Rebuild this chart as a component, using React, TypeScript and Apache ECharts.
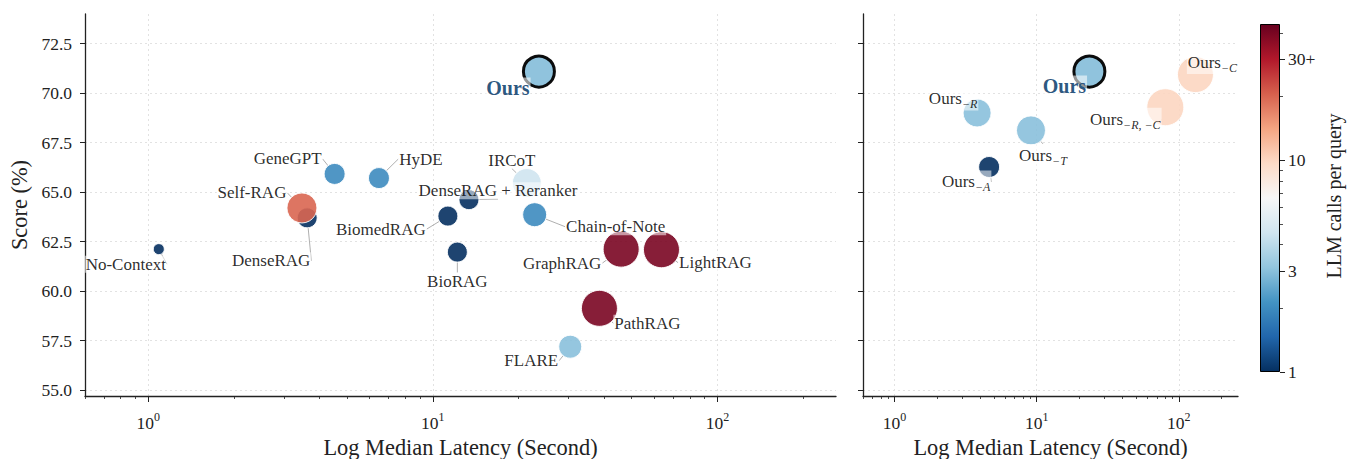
import React, { useEffect, useRef } from 'react';
import * as echarts from 'echarts';

// ---------------- data ----------------
const baselineNames = [
  'No-Context', 'DenseRAG', 'Self-RAG', 'GeneGPT', 'HyDE', 'DenseRAG + Reranker',
  'BiomedRAG', 'BioRAG', 'IRCoT', 'Chain-of-Note', 'GraphRAG', 'LightRAG',
  'PathRAG', 'FLARE', 'Ours',
];
const baselineLatency = [1.09, 3.62, 3.47, 4.52, 6.47, 13.4, 11.3, 12.2, 21.4, 22.8, 45.9, 63.6, 38.5, 30.4, 23.6];
const baselineScore = [62.12, 63.7, 64.2, 65.92, 65.71, 64.62, 63.79, 61.97, 65.46, 63.86, 62.12, 62.09, 59.13, 57.19, 71.09];
const baselineCalls = [1, 1, 20, 2, 2, 1, 1, 1, 4.5, 2, 40, 40, 40, 3, 3];
const baselineBubble = [11, 20, 30, 21, 21, 20, 20, 20, 29, 24, 36, 36, 36, 23, 31];

const ablationBase = ['Ours', 'Ours', 'Ours', 'Ours', 'Ours', 'Ours'];
const ablationSub = ['', '−R', '−T', '−A', '−C', '−R, −C'];
const ablationLatency = [23.5, 3.81, 9.12, 4.63, 131, 80.4];
const ablationScore = [71.09, 69.0, 68.12, 66.27, 70.94, 69.29];
const ablationCalls = [3, 3, 3, 1, 10, 10];
const ablationBubble = [31, 28, 29, 21, 36, 37];

const yTicks = [55, 57.5, 60, 62.5, 65, 67.5, 70, 72.5];
const xMajorTicks = [1, 10, 100];
const xMinorTicks = [0.6, 0.7, 0.8, 0.9, 2, 3, 4, 5, 6, 7, 8, 9, 20, 30, 40, 50, 60, 70, 80, 90, 200];
const cbMajorTicks = [1, 3, 10, 30];
const cbMinorTicks = [2, 4, 5, 6, 7, 8, 9, 20, 40];
const CB_MAX = 44;

// ---------------- layout / style ----------------
const baselineLabelShift: number[][] = [
  [-33, 15], [-36, 43], [-50, -15], [-47, -15], [42, -19], [29, -9],
  [-67, 13], [0, 29], [-15, -23], [81, 12], [-59, 14], [54, 13],
  [48, 15], [-39, 14], [-31, 16],
];
const ablationLabelShift: number[][] = [
  [-25, 14], [-24, -14], [12, 25], [-23, 15], [17, -12], [-40, 12],
];

const RDBU_R = ['#053061', '#2166ac', '#4393c3', '#92c5de', '#d1e5f0', '#f7f7f7', '#fddbc7', '#f4a582', '#d6604d', '#b2182b', '#67001f'];
const FONT = '"Liberation Serif", "Times New Roman", serif';
const OURS_COLOR = '#1f4e79';

const richStyles = {
  m: { fontFamily: FONT, fontSize: 17, color: '#111' },
  s: { fontFamily: FONT, fontSize: 12, fontStyle: 'italic', color: '#111', padding: [11, 0, 0, 0] },
  o: { fontFamily: FONT, fontSize: 20, fontWeight: 'bold', color: OURS_COLOR },
};

function logCalls(c: number) {
  return Math.log10(Math.min(c, CB_MAX));
}

export default function App() {
  const ref = useRef<HTMLDivElement>(null);

  useEffect(() => {
    if (!ref.current) return;
    const chart = echarts.init(ref.current, undefined, { renderer: 'svg' });

    const G0 = { left: 85, top: 14, width: 751, height: 382 };
    const G1 = { left: 863, top: 14, width: 375, height: 382 };
    const G2 = { left: 1260, top: 24, width: 20, height: 348 };

    const axisLineStyle = { color: '#222', width: 1.3 };
    const splitLine = { show: true, lineStyle: { color: '#e2e2e2', type: [2, 3], width: 1 } };

    const majorX = (gridIndex: number) => ({
      type: 'log', gridIndex, min: 0.6, max: 261, position: 'bottom',
      axisLine: { show: true, lineStyle: axisLineStyle },
      axisTick: { show: true, length: 6, customValues: xMajorTicks, lineStyle: { color: '#222', width: 1 } },
      axisLabel: {
        show: true, customValues: xMajorTicks, margin: 15,
        formatter: (v: number) => `{b|10}{p|${Math.round(Math.log10(v))}}`,
        rich: {
          b: { fontFamily: FONT, fontSize: 17.5, color: '#222' },
          p: { fontFamily: FONT, fontSize: 12, color: '#222', padding: [0, 0, 11, 0] },
        },
      },
      splitLine: { ...splitLine },
      name: 'Log Median Latency (Second)', nameLocation: 'middle', nameGap: 39,
      nameTextStyle: { fontFamily: FONT, fontSize: 22.4, color: '#222' },
    });
    const minorX = (gridIndex: number) => ({
      type: 'log', gridIndex, min: 0.6, max: 261, position: 'bottom',
      axisLine: { show: false },
      axisTick: { show: true, length: 3, customValues: xMinorTicks, lineStyle: { color: '#222', width: 0.8 } },
      axisLabel: { show: false },
      splitLine: { show: false },
    });
    const scoreY = (gridIndex: number, showLabel: boolean) => ({
      type: 'value', gridIndex, min: 54.7, max: 74.0,
      axisLine: { show: true, lineStyle: axisLineStyle },
      axisTick: { show: true, length: 5, customValues: yTicks, lineStyle: { color: '#222', width: 1 } },
      axisLabel: {
        show: showLabel, customValues: yTicks, margin: 13,
        formatter: (v: number) => v.toFixed(1),
        fontFamily: FONT, fontSize: 17.5, color: '#222',
      },
      splitLine: { ...splitLine },
      ...(showLabel ? {
        name: 'Score (%)', nameLocation: 'middle', nameGap: 52,
        nameTextStyle: { fontFamily: FONT, fontSize: 22.4, color: '#222' },
      } : {}),
    });

    const scatterCommon = {
      type: 'scatter',
      symbolSize: (v: number[]) => v[2],
      itemStyle: { borderColor: '#fff', borderWidth: 1, opacity: 0.9 },
      labelLine: { show: true, lineStyle: { color: '#9a9a9a', width: 0.8 } },
      emphasis: { disabled: true },
      silent: true,
    };

    const labelCommon = {
      show: true, position: 'inside', rich: richStyles,
      backgroundColor: 'rgba(255,255,255,0.6)', padding: [0, 1],
    };

    const oursItem = { borderColor: '#000', borderWidth: 3, opacity: 0.95 };

    const baselineData = baselineNames.map((n, i) => ({
      value: [baselineLatency[i], baselineScore[i], baselineBubble[i], logCalls(baselineCalls[i])],
      name: n,
      itemStyle: n === 'Ours' ? oursItem : undefined,
    }));
    const ablationData = ablationBase.map((n, i) => ({
      value: [ablationLatency[i], ablationScore[i], ablationBubble[i], logCalls(ablationCalls[i])],
      name: n,
      itemStyle: ablationSub[i] === '' ? oursItem : undefined,
    }));

    const gridCommon = { containLabel: false, outerBoundsMode: 'none' };

    const option: any = {
      animation: false,
      backgroundColor: '#fff',
      grid: [
        { ...G0, ...gridCommon },
        { ...G1, ...gridCommon },
        { ...G2, ...gridCommon },
      ],
      xAxis: [
        majorX(0), minorX(0), majorX(1), minorX(1),
        { type: 'category', gridIndex: 2, data: ['cb'], show: false, boundaryGap: true },
      ],
      yAxis: [
        scoreY(0, true), scoreY(1, false),
        {
          type: 'log', gridIndex: 2, min: 1, max: CB_MAX, position: 'right',
          axisLine: { show: false },
          axisTick: { show: true, length: 5, customValues: cbMajorTicks, lineStyle: { color: '#222', width: 1 } },
          axisLabel: {
            show: true, customValues: cbMajorTicks, margin: 8,
            formatter: (v: number) => (Math.round(v) === 30 ? '30+' : String(Math.round(v))),
            fontFamily: FONT, fontSize: 17.5, color: '#222',
          },
          splitLine: { show: false },
        },
        {
          type: 'log', gridIndex: 2, min: 1, max: CB_MAX, position: 'right',
          axisLine: { show: false },
          axisTick: { show: true, length: 3, customValues: cbMinorTicks, lineStyle: { color: '#222', width: 0.8 } },
          axisLabel: { show: false },
          splitLine: { show: false },
        },
      ],
      visualMap: {
        type: 'continuous', show: false, dimension: 3, min: 0, max: Math.log10(CB_MAX),
        seriesIndex: [0, 1], inRange: { color: RDBU_R },
      },
      series: [
        {
          ...scatterCommon,
          xAxisIndex: 0, yAxisIndex: 0,
          data: baselineData,
          label: {
            ...labelCommon,
            formatter: (p: any) => (p.name === 'Ours' ? '{o|Ours}' : `{m|${p.name}}`),
          },
          labelLayout: (p: any) => ({ dx: baselineLabelShift[p.dataIndex][0], dy: baselineLabelShift[p.dataIndex][1] }),
        },
        {
          ...scatterCommon,
          xAxisIndex: 2, yAxisIndex: 1,
          data: ablationData,
          label: {
            ...labelCommon,
            formatter: (p: any) => {
              const sub = ablationSub[p.dataIndex];
              return sub === '' ? '{o|Ours}' : `{m|${p.name}}{s|${sub}}`;
            },
          },
          labelLayout: (p: any) => ({ dx: ablationLabelShift[p.dataIndex][0], dy: ablationLabelShift[p.dataIndex][1] }),
        },
        {
          type: 'bar', xAxisIndex: 4, yAxisIndex: 2, data: [CB_MAX], barWidth: '100%', silent: true,
          itemStyle: {
            color: new echarts.graphic.LinearGradient(0, 1, 0, 0,
              RDBU_R.map((c, i) => ({ offset: i / (RDBU_R.length - 1), color: c }))),
            borderColor: '#000', borderWidth: 1,
          },
        },
      ],
      graphic: [
        {
          type: 'text', x: 1334, y: 196, rotation: Math.PI / 2,
          style: {
            text: 'LLM calls per query', fontFamily: FONT, fontSize: 20, fill: '#222',
            align: 'center', verticalAlign: 'middle', textAlign: 'center', textVerticalAlign: 'middle',
          },
        },
      ],
    };

    chart.setOption(option);
    return () => chart.dispose();
  }, []);

  return (
    <div
      ref={ref}
      style={{ position: 'fixed', left: 0, top: 0, width: 1347, height: 459, background: '#fff' }}
    />
  );
}
